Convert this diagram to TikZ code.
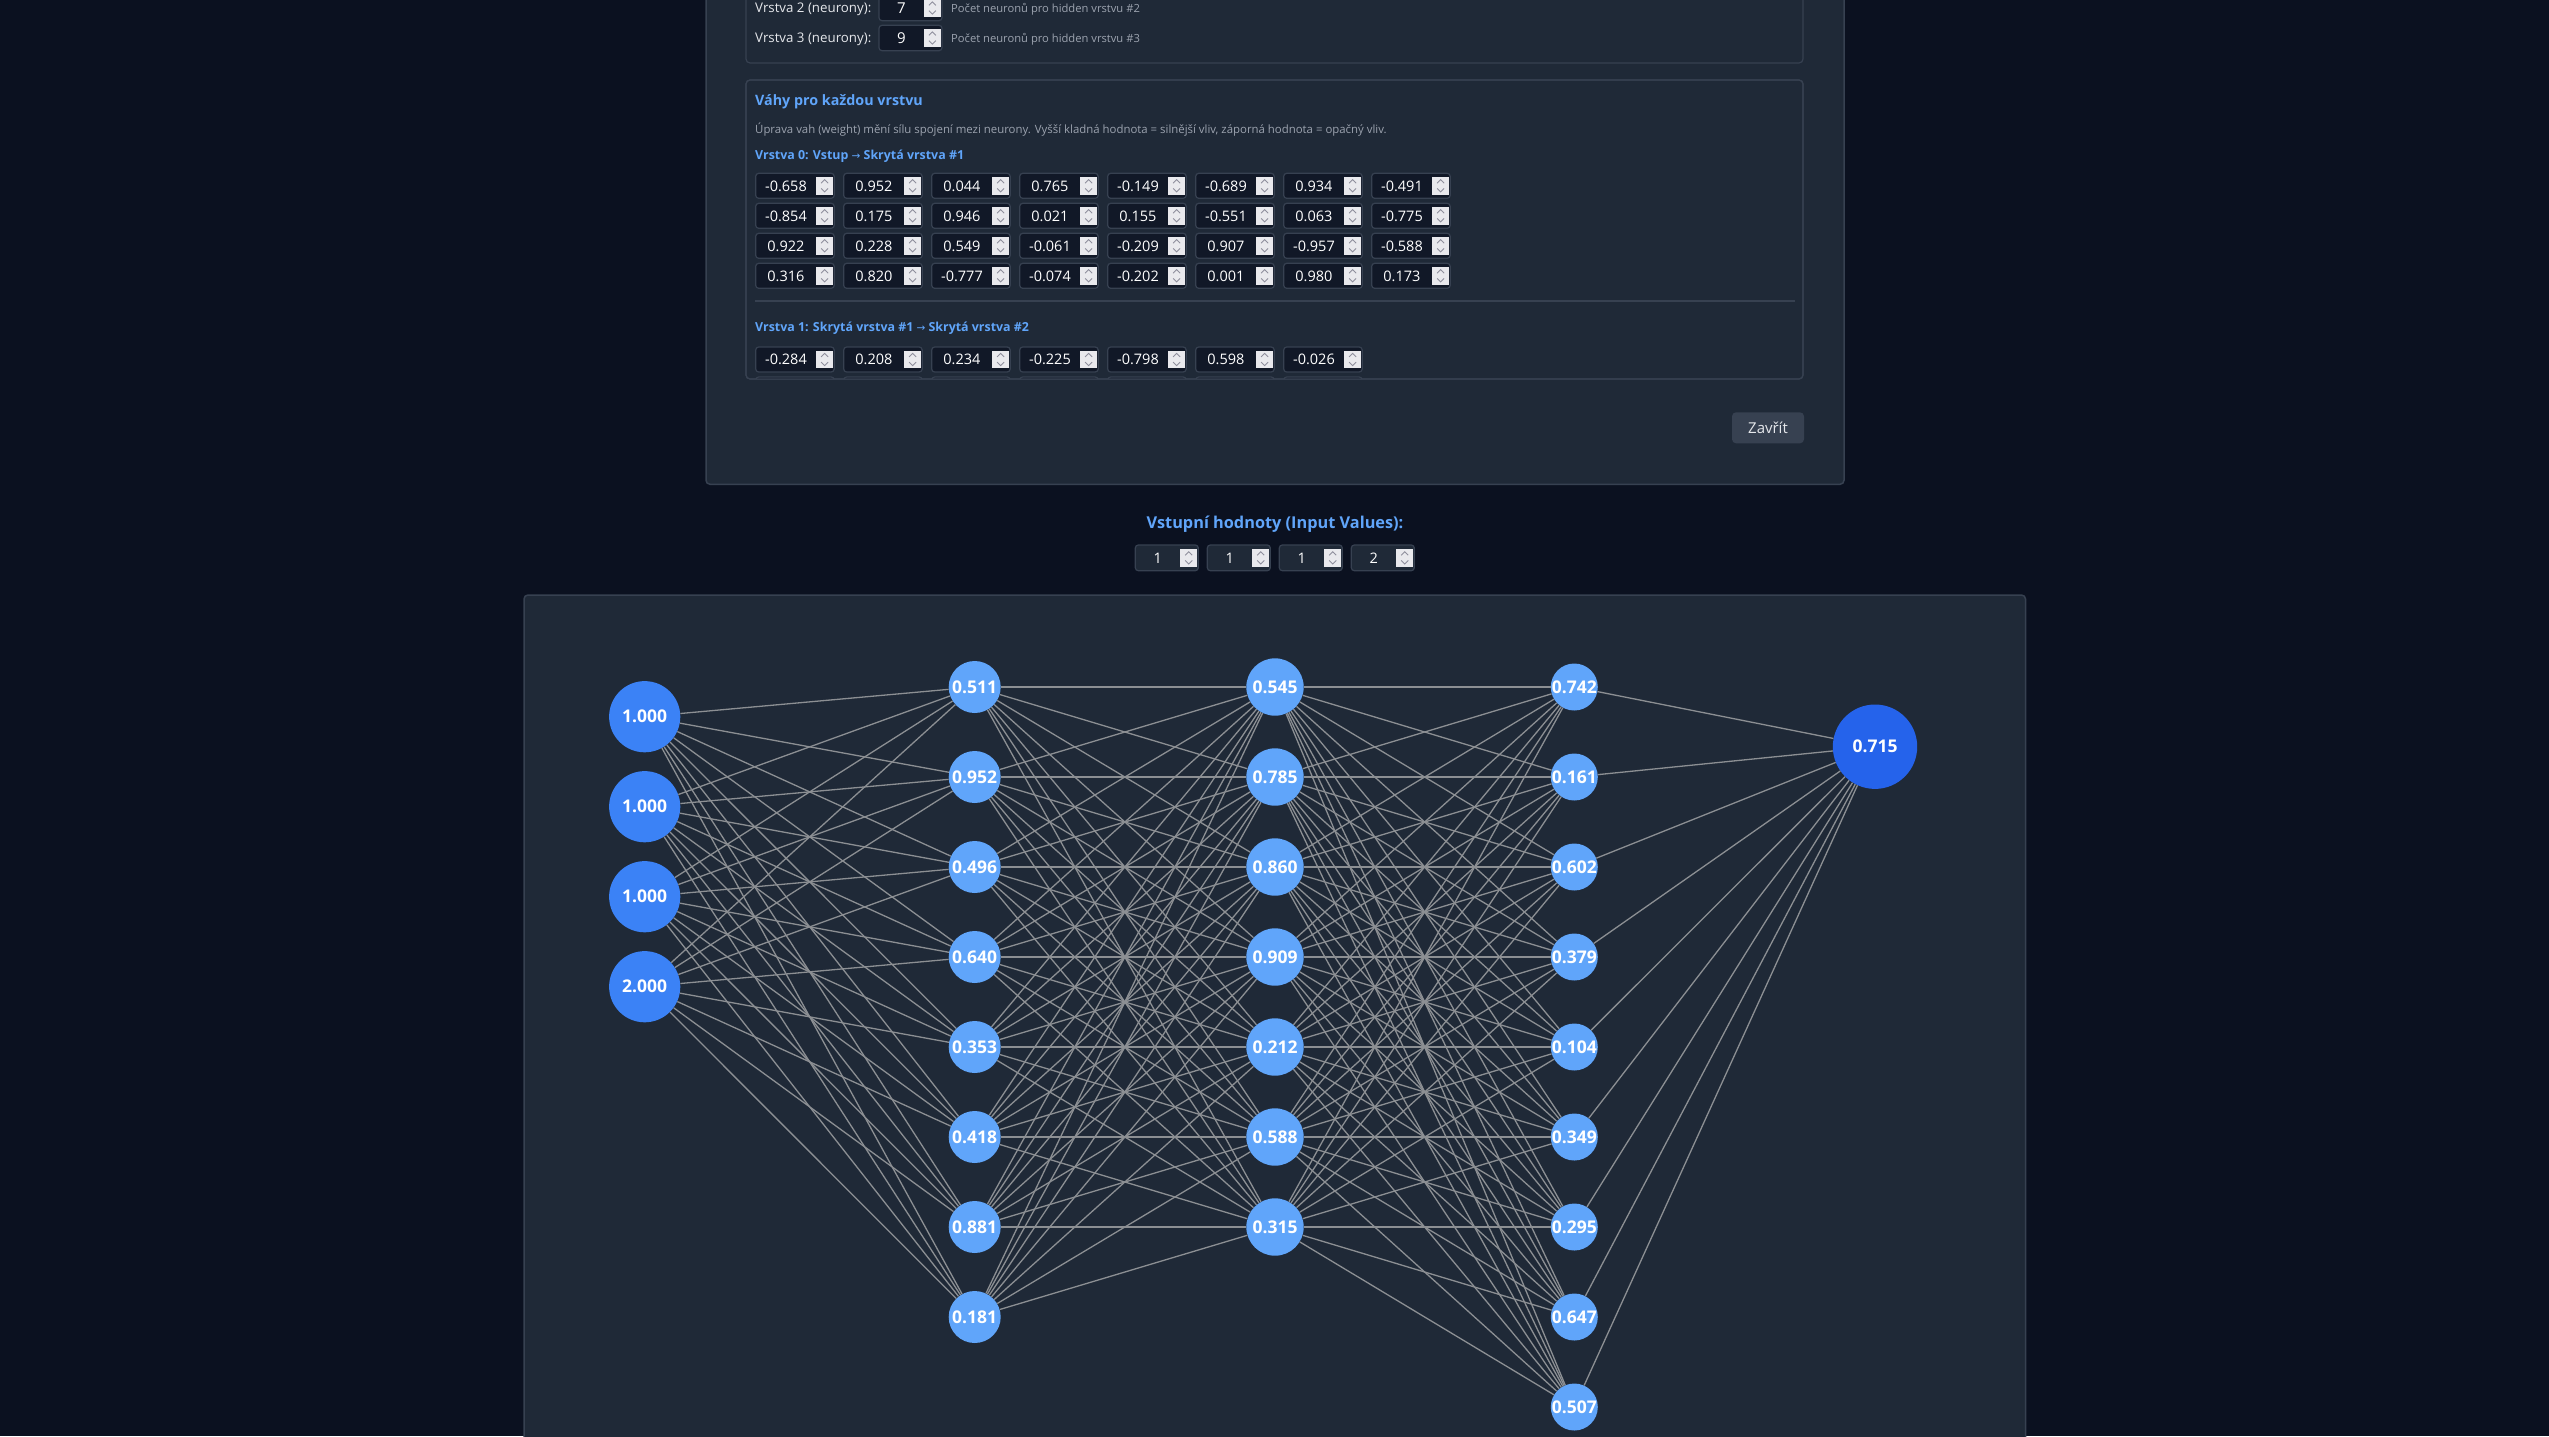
\documentclass[tikz,border=0pt]{standalone}
\usepackage{fontspec}
\setmainfont{Open Sans}
\newfontfamily\arrowfont{DejaVu Sans}
\definecolor{pagebg}{HTML}{0B1120}
\definecolor{panel}{HTML}{1F2937}
\definecolor{bordr}{HTML}{374151}
\definecolor{fielddark}{HTML}{111827}
\definecolor{spinbg}{HTML}{E9E9ED}
\definecolor{spinarrow}{HTML}{8F8F9D}
\definecolor{txtlight}{HTML}{E5E7EB}
\definecolor{txtgray}{HTML}{9CA3AF}
\definecolor{accent}{HTML}{60A5FA}
\definecolor{nin}{HTML}{3B82F6}
\definecolor{nhid}{HTML}{60A5FA}
\definecolor{nout}{HTML}{2563EB}
\definecolor{edgecol}{HTML}{8C8F93}
\newcommand\fsz[1]{\fontsize{#1}{#1}\selectfont}
\newcommand\spinfield[7]{%
  % #1 name, #2 fill, #3 x, #4 y (top), #5 w, #6 h, #7 text
  \draw[field, fill=#2] ({#3},{#4}) rectangle ++({#5},{#6});
  \fill[spin] ({#3+#5-18},{#4+3.6}) rectangle ({#3+#5-1.2},{#4+#6-3.6});
  \draw[chev] ({#3+#5-13.1},{#4+#6/2-2.6}) -- ({#3+#5-9.6},{#4+#6/2-6.1}) -- ({#3+#5-6.1},{#4+#6/2-2.6});
  \draw[chev] ({#3+#5-13.1},{#4+#6/2+2.6}) -- ({#3+#5-9.6},{#4+#6/2+6.1}) -- ({#3+#5-6.1},{#4+#6/2+2.6});
  \node[fieldtext] (#1) at ({#3+(#5-18)/2},{#4+#6/2}) {#7};
}
\tikzset{
  x=1pt, y=-1pt,
  panelbox/.style={fill=panel, draw=bordr, line width=1.5, rounded corners=4},
  innerbox/.style={fill=panel, draw=bordr, line width=1.2, rounded corners=4},
  field/.style={draw=bordr, line width=1.2, rounded corners=3},
  spin/.style={fill=spinbg},
  chev/.style={draw=spinarrow, line width=0.9},
  fieldtext/.style={inner sep=0, text=white, font=\fsz{14.5}, text height=10.4pt, text depth=0pt},
  lbl/.style={anchor=west, inner sep=0, text=txtlight, font=\fsz{13.3}},
  hint/.style={anchor=west, inner sep=0, text=txtgray, font=\fsz{11.2}},
  head/.style={anchor=west, inner sep=0, text=accent, font=\fsz{14.3}\bfseries},
  sub/.style={anchor=west, inner sep=0, text=accent, font=\fsz{12.4}\bfseries},
  neuron/.style={circle, inner sep=0, text=white, font=\fsz{17.5}\bfseries, text height=12.5pt, text depth=0pt},
  inneuron/.style={neuron, fill=nin, minimum size=71.2},
  h1neuron/.style={neuron, fill=nhid, minimum size=52},
  h2neuron/.style={neuron, fill=nhid, minimum size=57.4},
  h3neuron/.style={neuron, fill=nhid, minimum size=47},
  outneuron/.style={neuron, fill=nout, minimum size=84.4},
  link/.style={draw=edgecol, line width=1.3},
}
\begin{document}
\begin{tikzpicture}
\useasboundingbox (0,0) rectangle (2549,1436);
\fill[pagebg] (0,0) rectangle (2549,1436);

% ---------- modal ----------
\draw[panelbox] (706,-10) rectangle (1844,484.3);
\draw[innerbox] (746,-10) rectangle (1803,63);
\node[lbl] (l2) at (755,9) {Vrstva 2 (neurony):};
\spinfield{n2}{fielddark}{879}{-4.7}{63}{25.4}{\fsz{15}7}
\node[hint] (h2) at (951,9) {Počet neuronů pro hidden vrstvu \#2};
\node[lbl] (l3) at (755,39) {Vrstva 3 (neurony):};
\spinfield{n3}{fielddark}{879}{25.3}{63}{25.4}{\fsz{15}9}
\node[hint] (h3) at (951,39) {Počet neuronů pro hidden vrstvu \#3};

\draw[innerbox] (746,80) rectangle (1803,379);
\node[head] (wt) at (755,102) {Váhy pro každou vrstvu};
\node[hint, font=\fsz{11.4}] (wd) at (755,130) {Úprava vah (weight) mění sílu spojení mezi neurony. Vyšší kladná hodnota = silnější vliv, záporná hodnota = opačný vliv.};
\node[sub] (s0) at (755,156) {Vrstva 0: Vstup {\arrowfont\mdseries\fsz{10.5}→} Skrytá vrstva \#1};
\foreach \row [count=\r] in {
  {-0.658,0.952,0.044,0.765,-0.149,-0.689,0.934,-0.491},
  {-0.854,0.175,0.946,0.021,0.155,-0.551,0.063,-0.775},
  {0.922,0.228,0.549,-0.061,-0.209,0.907,-0.957,-0.588},
  {0.316,0.820,-0.777,-0.074,-0.202,0.001,0.980,0.173}}{
  \foreach \w [count=\c] in \row {
    \spinfield{wa\r-\c}{fielddark}{755.7+88*(\c-1)}{173.3+30*(\r-1)}{78.5}{25}{\w}
  }
}
\draw[draw=bordr, line width=1.5] (755,301) -- (1795,301);
\node[sub] (s1) at (755,328.5) {Vrstva 1: Skrytá vrstva \#1 {\arrowfont\mdseries\fsz{10.5}→} Skrytá vrstva \#2};
\foreach \w [count=\c] in {-0.284,0.208,0.234,-0.225,-0.798,0.598,-0.026}{
  \spinfield{wb1-\c}{fielddark}{755.7+88*(\c-1)}{347}{78.5}{25}{\w}
}
\begin{scope}
  \clip (746,80) rectangle (1803,378.4);
  \foreach \c in {1,...,7}{
    \draw[field, fill=fielddark] ({755.7+88*(\c-1)},377) rectangle ++(78.5,25);
  }
\end{scope}
\draw[draw=bordr, line width=1.2, rounded corners=4] (746,80) rectangle (1803,379);

\node[fill=bordr, rounded corners=4, minimum width=72, minimum height=31, inner sep=0,
      text=txtlight, font=\fsz{15}] (close) at (1768,427.8) {Zavřít};

% ---------- input values ----------
\node[inner sep=0, text=accent, font=\fsz{16.3}\bfseries] (ivt) at (1275,524) {Vstupní hodnoty (Input Values):};
\foreach \v [count=\k] in {1,1,1,2}{
  \spinfield{iv\k}{panel}{1135.3+72*(\k-1)}{545}{63}{25.7}{\v}
}

% ---------- network ----------
\draw[panelbox] (524,595) rectangle (2025.5,1470);

\foreach \v [count=\k] in {1.000,1.000,1.000,2.000}
  \node[inneuron] (i\k) at (644.7,{716.7+90*(\k-1)}) {\v};
\foreach \v [count=\k] in {0.511,0.952,0.496,0.640,0.353,0.418,0.881,0.181}
  \node[h1neuron] (a\k) at (974.7,{687+90*(\k-1)}) {\v};
\foreach \v [count=\k] in {0.545,0.785,0.860,0.909,0.212,0.588,0.315}
  \node[h2neuron] (b\k) at (1275,{687+90*(\k-1)}) {\v};
\foreach \v [count=\k] in {0.742,0.161,0.602,0.379,0.104,0.349,0.295,0.647,0.507}
  \node[h3neuron] (c\k) at (1574.3,{687+90*(\k-1)}) {\v};
\node[outneuron] (out) at (1875,746.7) {0.715};

\foreach \p in {1,...,4} \foreach \q in {1,...,8} \draw[link] (i\p) -- (a\q);
\foreach \p in {1,...,8} \foreach \q in {1,...,7} \draw[link] (a\p) -- (b\q);
\foreach \p in {1,...,7} \foreach \q in {1,...,9} \draw[link] (b\p) -- (c\q);
\foreach \p in {1,...,9} \draw[link] (c\p) -- (out);
\end{tikzpicture}
\end{document}
